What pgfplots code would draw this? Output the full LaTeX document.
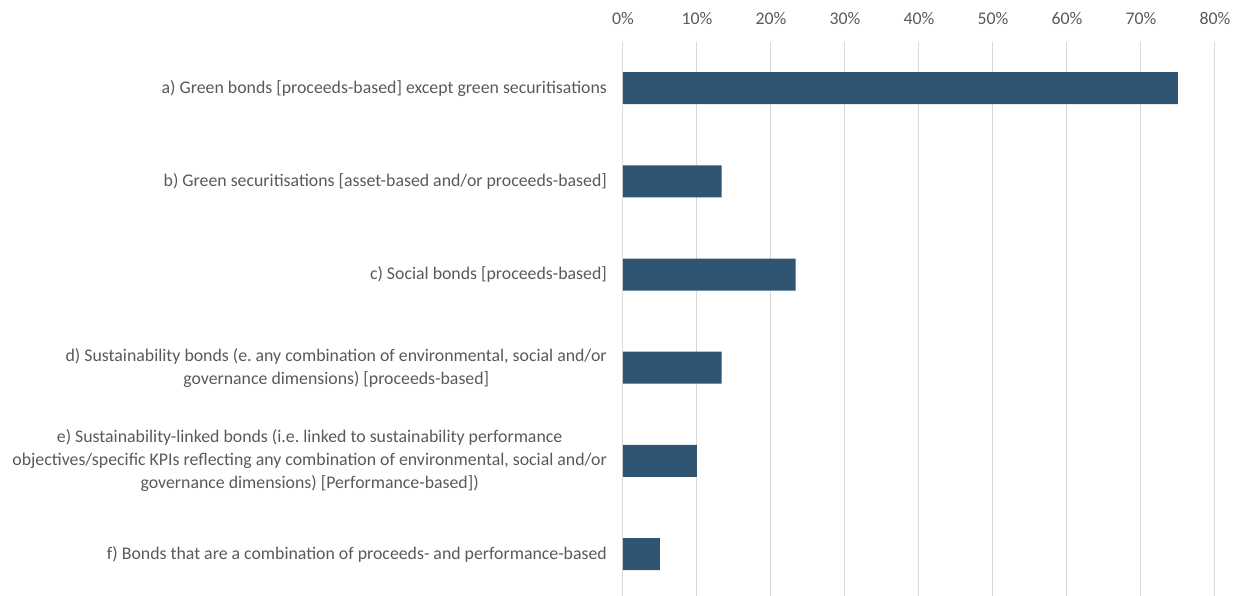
\documentclass[border=0pt]{standalone}
\usepackage{fontspec}
\setmainfont{Carlito}
\usepackage{pgfplots}
\pgfplotsset{compat=1.18}
\definecolor{barblue}{RGB}{47,85,114}
\definecolor{txtgray}{RGB}{89,89,89}
\definecolor{gridgray}{RGB}{217,217,217}
\frenchspacing
\begin{document}
\fontsize{17.8}{23}\selectfont
\begin{tikzpicture}
\useasboundingbox (-623pt,-5pt) rectangle (618pt,591pt);
\begin{axis}[
  at={(0pt,-9.6pt)}, anchor=south west,
  scale only axis,
  width=592pt, height=559pt,
  xbar, bar width=32pt,
  xmin=0, xmax=80,
  ymin=-0.5, ymax=5.5,
  y dir=reverse,
  axis line style={draw=none},
  axis x line*=top,
  xtick={0,10,...,80},
  xticklabels={0\%,10\%,20\%,30\%,40\%,50\%,60\%,70\%,80\%},
  xmajorgrids, grid style={gridgray, line width=1pt},
  major tick length=0pt,
  ytick={0,1,2,3,4,5},
  yticklabels={
    {a) Green bonds [proceeds-based] except green securitisations},
    {b) Green securitisations [asset-based and/or proceeds-based]},
    {c) Social bonds [proceeds-based]},
    {d) Sustainability bonds (e. any combination of environmental, social and/or\\governance dimensions) [proceeds-based]},
    {e) Sustainability-linked bonds (i.e. linked to sustainability performance\\objectives/specific KPIs reflecting any combination of environmental, social and/or\\governance dimensions) [Performance-based])},
    {f) Bonds that are a combination of proceeds- and performance-based}
  },
  yticklabel style={align=center, text=txtgray, font=\fontsize{17.8}{23}\selectfont, xshift=-10pt},
  xticklabel style={text=txtgray, font=\fontsize{17.8}{23}\selectfont, yshift=11pt},
  clip=false,
]
\addplot[fill=barblue, draw=none] coordinates {
  (75,0) (13.33,1) (23.33,2) (13.33,3) (10,4) (5,5)
};
\end{axis}
\end{tikzpicture}
\end{document}
